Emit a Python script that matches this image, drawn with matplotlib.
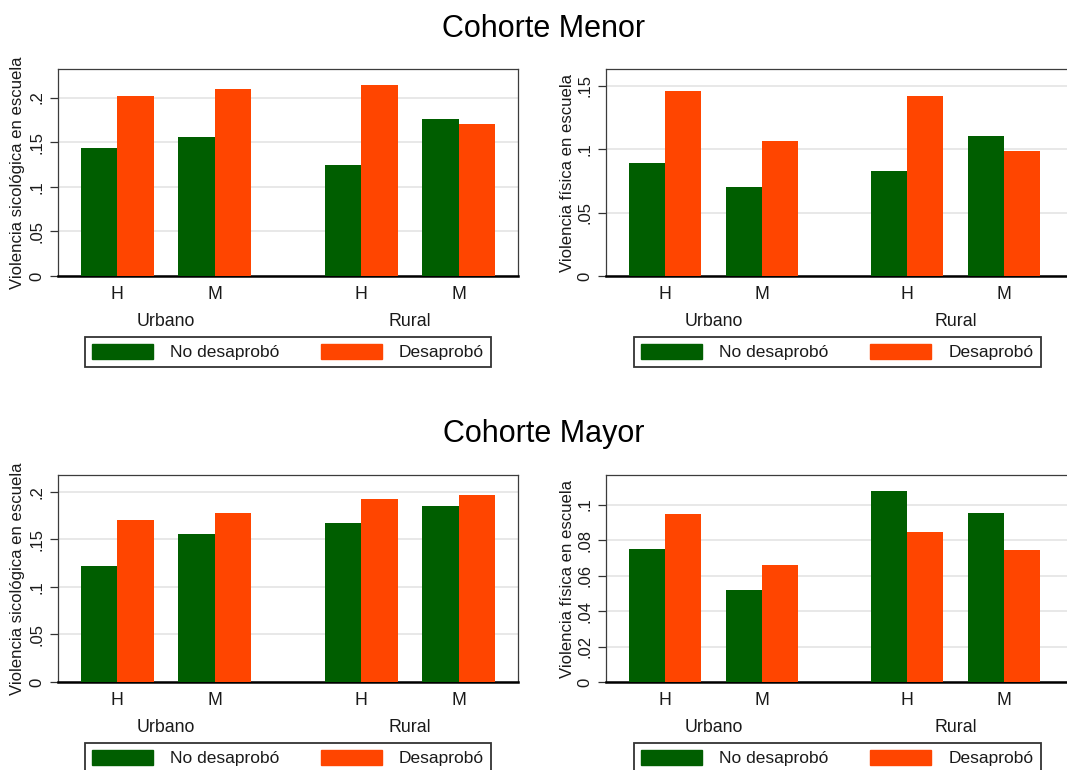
import numpy as np
import matplotlib
matplotlib.use("Agg")
import matplotlib.pyplot as plt
from matplotlib.patches import Patch

plt.rcParams["font.family"] = ["Liberation Sans", "DejaVu Sans"]

areas = ["Urbano", "Rural"]
sexes = ["H", "M", "H", "M"]
series_names = ["No desaprobó", "Desaprobó"]

# values ordered Urbano-H, Urbano-M, Rural-H, Rural-M
menor_sico_no = [0.143, 0.156, 0.124, 0.176]
menor_sico_si = [0.202, 0.210, 0.214, 0.170]
menor_fis_no = [0.089, 0.070, 0.0825, 0.110]
menor_fis_si = [0.1455, 0.106, 0.142, 0.0985]
mayor_sico_no = [0.1215, 0.1555, 0.1667, 0.1853]
mayor_sico_si = [0.170, 0.178, 0.1926, 0.197]
mayor_fis_no = [0.0752, 0.0517, 0.1075, 0.0955]
mayor_fis_si = [0.0949, 0.0658, 0.0848, 0.0746]

label_sico = "Violencia sicológica en escuela"
label_fis = "Violencia física en escuela"

ticks_sico = [0, 0.05, 0.1, 0.15, 0.2]
ticklabels_sico = ["0", ".05", ".1", ".15", ".2"]
ticks_fis_menor = [0, 0.05, 0.1, 0.15]
ticklabels_fis_menor = ["0", ".05", ".1", ".15"]
ticks_fis_mayor = [0, 0.02, 0.04, 0.06, 0.08, 0.1]
ticklabels_fis_mayor = ["0", ".02", ".04", ".06", ".08", ".1"]

GREEN = "#005e00"
ORANGE = "#ff4500"
TXT = "#1a1a1a"

# bar layout in units of one bar width
pair_centers = np.array([1.62, 4.29, 8.29, 10.96])
group_centers = [(pair_centers[0] + pair_centers[1]) / 2, (pair_centers[2] + pair_centers[3]) / 2]

fig = plt.figure(figsize=(10.67, 7.70), dpi=100)

W, H = 1067, 770


def make_axes(left_px, right_px, top_px, bottom_px):
    return fig.add_axes([left_px / W, 1 - bottom_px / H,
                         (right_px - left_px) / W, (bottom_px - top_px) / H])


def draw_panel(ax, no_vals, si_vals, ymax, ticks, ticklabels, ylabel, xmax, label_x):
    ax.bar(pair_centers - 0.5, no_vals, width=1.0, color=GREEN, zorder=3)
    ax.bar(pair_centers + 0.5, si_vals, width=1.0, color=ORANGE, zorder=3)
    ax.set_xlim(0, xmax)
    ax.set_ylim(0, ymax)
    ax.set_yticks(ticks)
    ax.set_yticklabels(ticklabels, rotation=90, va="center", fontsize=12, color=TXT)
    ax.yaxis.grid(True, color="#e4e4e4", linewidth=1.2, zorder=0)
    ax.set_axisbelow(True)
    ax.tick_params(axis="y", length=6, width=0.9, color="#333333", pad=4)
    ax.set_xticks(pair_centers)
    ax.set_xticklabels(sexes, fontsize=12.8, color=TXT)
    ax.tick_params(axis="x", length=0, pad=7)
    for side in ["top", "right", "left"]:
        ax.spines[side].set_color("#3c3c3c")
        ax.spines[side].set_linewidth(0.9)
    ax.spines["bottom"].set_color("black")
    ax.spines["bottom"].set_linewidth(1.8)
    ax.set_ylabel(ylabel, fontsize=12.1, color=TXT)
    ax.yaxis.set_label_coords(label_x, 0.5)
    for gx, name in zip(group_centers, areas):
        ax.annotate(name, xy=(gx, 0), xycoords=("data", "axes fraction"),
                    xytext=(0, -46), textcoords="offset pixels",
                    ha="center", va="center", fontsize=12.8, color=TXT)
    handles = [Patch(facecolor=GREEN, edgecolor=GREEN),
               Patch(facecolor=ORANGE, edgecolor=ORANGE)]
    leg = ax.legend(handles, series_names, loc="center", ncol=2,
                    bbox_to_anchor=(0.5, 0, 0, 0), bbox_transform=ax.transAxes,
                    fontsize=12.5, handlelength=3.5, handleheight=1.0,
                    handletextpad=1.0, columnspacing=2.4, borderpad=0.4,
                    borderaxespad=0, fancybox=False, frameon=True)
    leg.set_bbox_to_anchor((0.5, -76 / ((ax.get_position().height) * H)), transform=ax.transAxes)
    frame = leg.get_frame()
    frame.set_edgecolor("black")
    frame.set_linewidth(1.3)
    for t in leg.get_texts():
        t.set_color(TXT)


ax1 = make_axes(58, 518, 69, 276)
ax2 = make_axes(606, 1069, 69, 276)
ax3 = make_axes(58, 518, 475, 682)
ax4 = make_axes(606, 1069, 475, 682)

xmax_left = 12.58
xmax_right = 12.58 * (1069 - 606) / 457

draw_panel(ax1, menor_sico_no, menor_sico_si, 0.232, ticks_sico, ticklabels_sico,
           label_sico, xmax_left, -0.072)
draw_panel(ax2, menor_fis_no, menor_fis_si, 0.163, ticks_fis_menor, ticklabels_fis_menor,
           label_fis, xmax_right, -0.067)
draw_panel(ax3, mayor_sico_no, mayor_sico_si, 0.2175, ticks_sico, ticklabels_sico,
           label_sico, xmax_left, -0.072)
draw_panel(ax4, mayor_fis_no, mayor_fis_si, 0.1167, ticks_fis_mayor, ticklabels_fis_mayor,
           label_fis, xmax_right, -0.067)

fig.text(544 / W, 1 - 29 / H, "Cohorte Menor", ha="center", va="center", fontsize=22, color="black")
fig.text(544 / W, 1 - 434 / H, "Cohorte Mayor", ha="center", va="center", fontsize=22, color="black")

fig.savefig("out.png", dpi=100, facecolor="white")
